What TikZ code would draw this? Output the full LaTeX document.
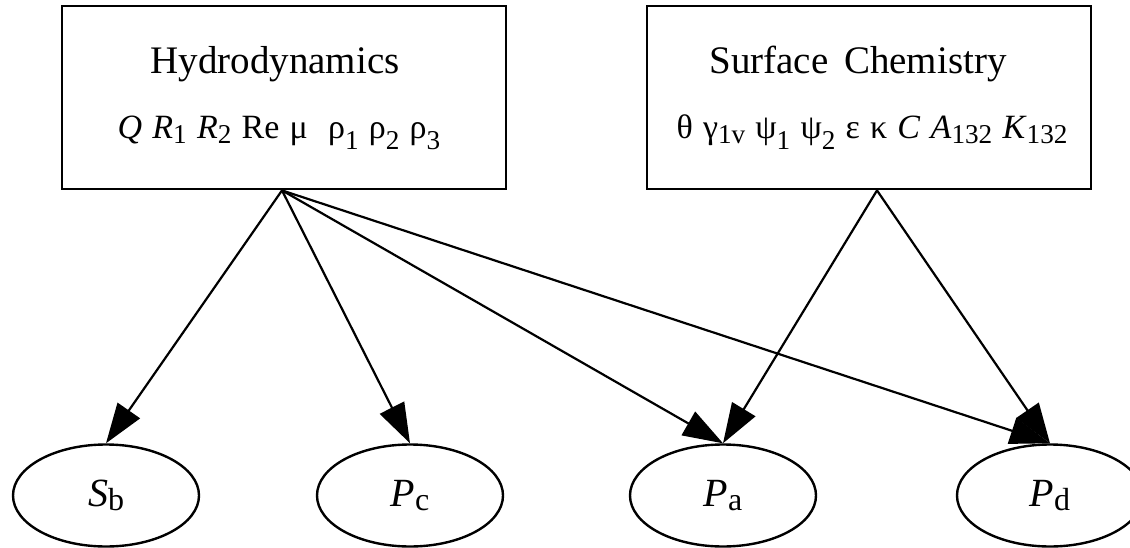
\documentclass[tikz,border=0pt]{standalone}
\usepackage{fontspec}
\setmainfont{Liberation Serif}
\usetikzlibrary{arrows.meta,shapes.geometric}
\newcommand\lowsub[1]{\raisebox{-0.14em}{\scalebox{0.8}{#1}}}
\newcommand\greeksub[1]{\raisebox{-0.3em}{\scalebox{0.8}{#1}}}
\newcommand\pgap{\hspace{0.3em}}
\tikzset{
  groupbox/.style={draw,line width=2.8pt,minimum width=444pt,minimum height=183pt,inner sep=0pt},
  grouptitle/.style={anchor=base,font=\fontsize{39}{44}\selectfont,inner sep=0pt},
  params/.style={anchor=base,font=\fontsize{34}{40}\selectfont,inner sep=0pt},
  outcome/.style={draw,ellipse,line width=2.4pt,minimum width=186pt,minimum height=102pt,inner sep=0pt,font=\fontsize{40}{46}\selectfont},
  dep/.style={-{Triangle[length=40pt,width=27pt]},line width=2.2pt},
}
\begin{document}
\begin{tikzpicture}[x=1pt,y=-1pt]
  \useasboundingbox (0,0) rectangle (1130,548);
  % parameter groups
  \node[groupbox] (hyd) at (284,97.5) {};
  \node[grouptitle] (hydt) at (275,74) {Hydrodynamics};
  \node[params] (hydp) at (279,139) {\textit{Q}\pgap\textit{R}\lowsub{1}\pgap\textit{R}\lowsub{2}\pgap Re\pgap μ\pgap\pgap ρ\greeksub{1}\pgap ρ\greeksub{2}\pgap ρ\greeksub{3}};
  \node[groupbox] (surf) at (869,97.5) {};
  \node[grouptitle] (surft) at (858,74) {Surface\hspace{0.4em}Chemistry};
  \node[params] (surfp) at (872,139) {θ\pgap γ\lowsub{1v}\pgap ψ\greeksub{1}\pgap ψ\greeksub{2}\pgap ε\pgap κ\pgap\textit{C}\pgap\textit{A}\lowsub{132}\pgap\textit{K}\lowsub{132}};
  % outcomes
  \node[outcome] (sb) at (106,495.5) {\textit{S}\raisebox{-0.12em}{\scalebox{0.8}{b}}};
  \node[outcome] (pc) at (410,495.5) {\textit{P}\raisebox{-0.12em}{\scalebox{0.8}{c}}};
  \node[outcome] (pa) at (723,495.5) {\textit{P}\raisebox{-0.12em}{\scalebox{0.8}{a}}};
  \node[outcome] (pd) at (1050,495.5) {\textit{P}\raisebox{-0.12em}{\scalebox{0.8}{d}}};
  % dependencies
  \foreach \x in {sb,pc,pa,pd} \draw[dep] ([xshift=-2pt]hyd.south) -- (\x.north);
  \foreach \x in {pa,pd} \draw[dep] ([xshift=8pt]surf.south) -- (\x.north);
\end{tikzpicture}
\end{document}
